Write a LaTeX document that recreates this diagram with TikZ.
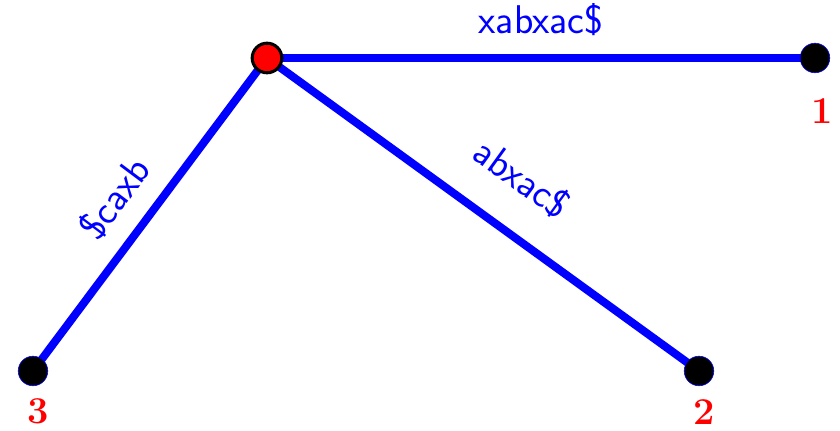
\documentclass[tikz,border=0pt]{standalone}
\usetikzlibrary{positioning}

\begin{document}
\begin{tikzpicture}[
			leaf/.style={circle, draw=blue, thin, fill=black, minimum size=0.74cm, inner sep=0pt},
			rootnode/.style={circle, draw=black, line width=2.2pt, fill=red, minimum size=0.74cm, inner sep=0pt},
			edge/.style={blue, line width=5.7pt},
			lbl/.style={blue, font=\sffamily\fontsize{28.5}{34}\selectfont, sloped, anchor=base, inner sep=0pt},
			num/.style={red, font=\bfseries\fontsize{27}{32}\selectfont, inner sep=0pt},
		]
		\useasboundingbox (0,0) rectangle (21,10.775);

		\draw[edge] (6.675, 9.325) coordinate (r) -- (20.375, 9.325) coordinate (c1);
		\draw[edge] (r) -- (17.475, 1.5) coordinate (c2);
		\draw[edge] (0.825, 1.5) coordinate (c3) -- (r);

		% edge labels
		\path (r) -- node[lbl, pos=0.5, yshift=0.6cm] (e1) {xabxac\$} (c1);
		\path (r) -- node[lbl, pos=0.52, yshift=0.97cm] (e2) {abxac\$} (c2);
		\path (c3) -- node[lbl, pos=0.48, yshift=0.62cm] (e3) {\$caxb} (r);

		\node[rootnode] (root) at (r) {};
		\node[leaf] (l1) at (c1) {};
		\node[leaf] (l2) at (c2) {};
		\node[leaf] (l3) at (c3) {};

		\node[num] (n1) at (20.55, 8.0) {1};
		\node[num] (n2) at (17.6, 0.47) {2};
		\node[num] (n3) at (0.95, 0.49) {3};
	\end{tikzpicture}
\end{document}
